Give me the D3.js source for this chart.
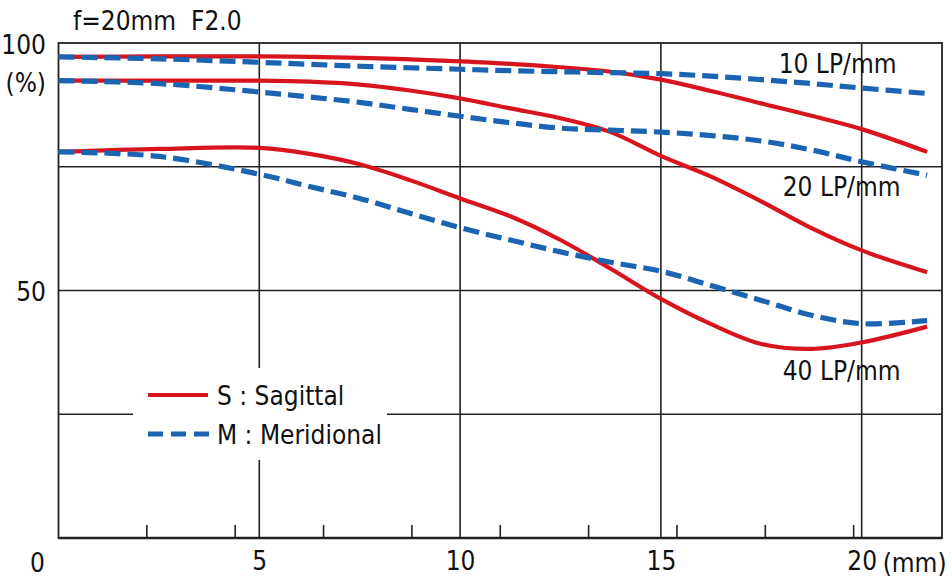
<!DOCTYPE html>
<html>
<head>
<meta charset="utf-8">
<script src="https://cdn.jsdelivr.net/npm/d3@7"></script>
<style>
  body { margin: 0; background: #fff; }
  svg text { font-family: "DejaVu Sans Condensed", "Liberation Sans Narrow", "Liberation Sans", sans-serif; font-stretch: condensed; fill: #111; }
</style>
</head>
<body>
<svg id="chart"></svg>
<script>
// image height (mm) sampled for every curve
const positions = [0, 2.5, 5, 6.25, 7.5, 8.75, 10, 11.25, 12.5, 13.75, 15, 16.25, 17.5, 18.75, 20, 21.63];

// MTF values (%)
const s10 = [97.2, 97.3, 97.3, 97.2, 97.0, 96.7, 96.3, 95.8, 95.1, 94.2, 92.6, 90.3, 87.8, 85.3, 82.6, 78.0];
const m10 = [97.2, 96.8, 96.1, 95.7, 95.3, 95.0, 94.7, 94.4, 94.2, 94.0, 93.8, 93.3, 92.6, 91.8, 90.9, 89.8];
const s20 = [92.4, 92.4, 92.4, 92.2, 91.6, 90.4, 88.8, 86.8, 84.8, 82.0, 77.2, 73.0, 68.0, 62.6, 58.1, 53.7];
const m20 = [92.4, 91.8, 90.1, 89.1, 88.0, 86.6, 85.2, 83.9, 82.8, 82.4, 82.0, 81.3, 80.2, 78.4, 76.0, 73.3];
const s40 = [78.0, 78.6, 78.8, 77.6, 75.5, 72.3, 68.6, 65.0, 60.2, 54.4, 48.3, 43.2, 39.2, 38.2, 39.5, 42.7];
const m40 = [78.0, 77.1, 73.5, 71.0, 68.6, 65.6, 62.7, 60.2, 57.8, 55.7, 53.9, 51.0, 48.0, 45.0, 43.3, 43.9];

const xGrid = [5, 10, 15, 20];
const yGrid = [25, 50, 75];
const minorTicks = [2.2, 4.4, 6.6, 8.8, 11, 13.2, 15.4, 17.6, 19.8];
const yLabels = [100, 50];
const freqLabels = [
  { text: "10 LP/mm", x: 19.4, y: 93.9 },
  { text: "20 LP/mm", x: 19.5, y: 69.0 },
  { text: "40 LP/mm", x: 19.5, y: 31.9 },
];

const width = 952;
const height = 581;
const margin = { top: 43, right: 10, bottom: 43, left: 58.5 };
const fontSize = "26px";

const svg = d3.select("#chart").attr("width", width).attr("height", height);

const x = d3.scaleLinear().domain([0, 22]).range([margin.left, width - margin.right]);
const y = d3.scaleLinear().domain([0, 100]).range([height - margin.bottom, margin.top]);

// grid
svg.append("g")
  .selectAll("line")
  .data(xGrid)
  .enter()
  .append("line")
  .attr("x1", (d) => x(d)).attr("x2", (d) => x(d))
  .attr("y1", y(100)).attr("y2", y(0))
  .attr("stroke", "#222").attr("stroke-width", 1.6);

svg.append("g")
  .selectAll("line")
  .data(yGrid)
  .enter()
  .append("line")
  .attr("x1", x(0)).attr("x2", x(22))
  .attr("y1", (d) => y(d)).attr("y2", (d) => y(d))
  .attr("stroke", "#222").attr("stroke-width", 1.6);

// minor ticks on the baseline
svg.append("g")
  .selectAll("line")
  .data(minorTicks)
  .enter()
  .append("line")
  .attr("x1", (d) => x(d)).attr("x2", (d) => x(d))
  .attr("y1", y(0)).attr("y2", y(0) - 13)
  .attr("stroke", "#222").attr("stroke-width", 1.6);

// frame
svg.append("rect")
  .attr("x", x(0)).attr("y", y(100))
  .attr("width", x(22) - x(0)).attr("height", y(0) - y(100))
  .attr("fill", "none").attr("stroke", "#222").attr("stroke-width", 1.8);
svg.append("line")
  .attr("x1", x(0)).attr("x2", x(22))
  .attr("y1", y(0)).attr("y2", y(0))
  .attr("stroke", "#222").attr("stroke-width", 2.6);

// x axis labels
const xAxis = d3.axisBottom(x).tickValues(xGrid).tickSize(0).tickPadding(14);
const gx = svg.append("g").attr("transform", `translate(0,${y(0)})`).call(xAxis);
gx.select(".domain").remove();
gx.selectAll("text").style("font-size", fontSize).attr("dy", "0.71em");

svg.append("text").attr("x", x(0) - 21).attr("y", 572)
  .attr("text-anchor", "middle").style("font-size", fontSize).text("0");
svg.append("text").attr("x", x(20) + 21).attr("y", 572)
  .attr("text-anchor", "start").style("font-size", fontSize).text("(mm)");

// y axis labels
svg.append("g")
  .selectAll("text")
  .data(yLabels)
  .enter()
  .append("text")
  .attr("x", 46)
  .attr("y", (d) => y(d) + (d === 100 ? 11 : 10))
  .attr("text-anchor", "end")
  .style("font-size", fontSize)
  .text((d) => d);
svg.append("text").attr("x", 46).attr("y", 92)
  .attr("text-anchor", "end").style("font-size", fontSize).text("(%)");

// title
svg.append("text").attr("x", 73).attr("y", 30)
  .style("font-size", fontSize).attr("xml:space", "preserve").text("f=20mm  F2.0");

// curves
const line = d3.line()
  .x((d, i) => x(positions[i]))
  .y((d) => y(d))
  .curve(d3.curveCatmullRom.alpha(0.5));

const red = "#d8151f";
const blue = "#1b64b2";

[s10, s20, s40].forEach((s) => {
  svg.append("path").attr("d", line(s))
    .attr("fill", "none").attr("stroke", red).attr("stroke-width", 4.2);
});
[m10, m20, m40].forEach((s) => {
  svg.append("path").attr("d", line(s))
    .attr("fill", "none").attr("stroke", blue).attr("stroke-width", 5.2)
    .attr("stroke-dasharray", "16,7");
});

// frequency labels
svg.append("g")
  .selectAll("text")
  .data(freqLabels)
  .enter()
  .append("text")
  .attr("x", (d) => x(d.x))
  .attr("y", (d) => y(d.y))
  .attr("text-anchor", "middle")
  .style("font-size", fontSize)
  .text((d) => d.text);

// legend
const legend = svg.append("g");
legend.append("rect").attr("x", 133).attr("y", 368).attr("width", 254).attr("height", 92).attr("fill", "#fff");
legend.append("line").attr("x1", 148).attr("x2", 208).attr("y1", 395).attr("y2", 395)
  .attr("stroke", red).attr("stroke-width", 4.2);
legend.append("line").attr("x1", 148).attr("x2", 210).attr("y1", 434).attr("y2", 434)
  .attr("stroke", blue).attr("stroke-width", 5.2).attr("stroke-dasharray", "15,8");
legend.append("text").attr("x", 217).attr("y", 405).style("font-size", fontSize).text("S : Sagittal");
legend.append("text").attr("x", 217).attr("y", 444).style("font-size", fontSize).text("M : Meridional");
</script>
</body>
</html>
